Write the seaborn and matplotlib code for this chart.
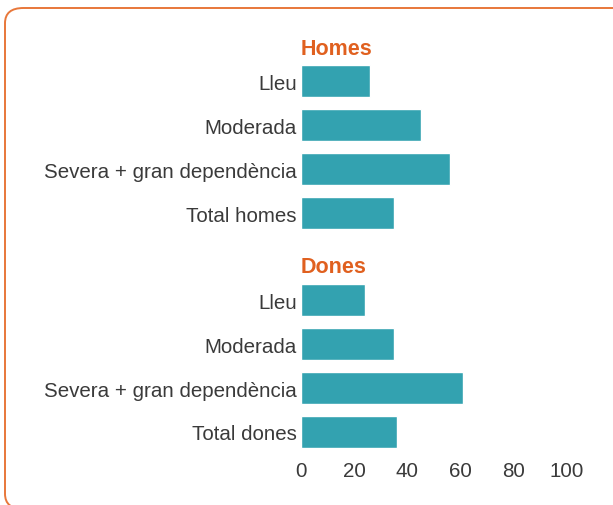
import pandas as pd
import matplotlib.pyplot as plt
import seaborn as sns
from matplotlib.patches import FancyBboxPatch

groups = ["Homes", "Dones"]
labels_homes = ["Lleu", "Moderada", "Severa + gran dependència", "Total homes"]
labels_dones = ["Lleu", "Moderada", "Severa + gran dependència", "Total dones"]
values_homes = [26, 45, 56, 35]
values_dones = [24, 35, 61, 36]
xticks = [0, 20, 40, 60, 80, 100]

teal = "#33A2B0"
orange = "#E0601F"
text_col = "#3A3A3A"

sns.set_style("white")
plt.rcParams['font.family'] = ['Liberation Sans', 'DejaVu Sans']

fig = plt.figure(figsize=(6.13, 5.06), dpi=100)

# rounded frame (runs off the right and bottom edges)
frame = FancyBboxPatch((5 / 613, -4 / 506), 640 / 613, 501 / 506,
                       boxstyle="round,pad=0,rounding_size=0.03",
                       transform=fig.transFigure, fill=False,
                       edgecolor="#E8773A", linewidth=1.4, clip_on=False)
fig.patches.append(frame)

ax1 = fig.add_axes([301 / 613, 0.5336, (567 - 301) / 613, 0.3478])
ax2 = fig.add_axes([301 / 613, 0.1008, (567 - 301) / 613, 0.3478])

data = [
    (ax1, groups[0], labels_homes, values_homes, 2),
    (ax2, groups[1], labels_dones, values_dones, 4.5),
]
for ax, title, labels, values, pad in data:
    df = pd.DataFrame({"cat": labels, "val": values})
    sns.barplot(data=df, x="val", y="cat", color=teal, width=0.72,
                saturation=1, ax=ax)
    ax.set_xlim(0, 100)
    ax.set_ylim(3.5, -0.5)
    ax.set_xlabel("")
    ax.set_ylabel("")
    sns.despine(ax=ax, left=True, bottom=True)
    ax.tick_params(axis="both", length=0, labelsize=14.8, colors=text_col, pad=3)
    ax.set_title(title, loc="left", color=orange, fontsize=15.5,
                 fontweight="bold", pad=pad)
    ax.set_xticks(xticks)

ax1.set_xticklabels([])
ax2.tick_params(axis="x", pad=5)

fig.savefig("out.png", dpi=100)
